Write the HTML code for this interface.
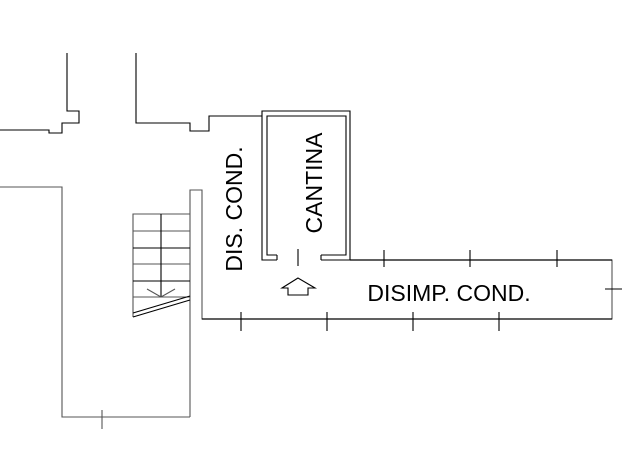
<!DOCTYPE html>
<html><head><style>
html,body{margin:0;padding:0;background:#fff;width:622px;height:464px;overflow:hidden}
svg{display:block}
text{font-family:"Liberation Sans",Arial,sans-serif;fill:#000}
</style></head><body>
<svg width="622" height="464" viewBox="0 0 622 464" xmlns="http://www.w3.org/2000/svg">
<g fill="none" stroke="#000" stroke-width="1.1">
<polyline points="0,130 49,130 49,133 62,133 62,123 79,123 79,111 67,111 67,53"/>
<polyline points="136,53 136,123 190,123 190,131 209,131 209,116 262,116"/>
<polyline points="0,187 62,187 62,417 190,417" stroke="#555"/>
<line x1="102" y1="410" x2="102" y2="429" stroke="#555"/>
<polyline points="190,417 190,190 202,190 202,319 612,319 612,260 350,260" stroke="#555"/>
<line x1="202" y1="319" x2="612" y2="319" stroke-width="1.3"/>
<polyline points="277,260 262,260 262,111 350,111 350,260"/>
<polyline points="277,255 267,255 267,116 346,116 346,255 321,255"/>
<line x1="321" y1="255" x2="321" y2="260"/>
<line x1="277" y1="255" x2="277" y2="260"/>
<line x1="321" y1="260" x2="350" y2="260"/>
<line x1="350" y1="260" x2="612" y2="260" stroke-width="1.3"/>
<line x1="298" y1="249" x2="298" y2="266"/>
<polygon points="298,278 282,288 288,288 288,295 308,295 308,288 315,288"/>
<line x1="384" y1="250" x2="384" y2="267"/>
<line x1="470" y1="250" x2="470" y2="267"/>
<line x1="557" y1="250" x2="557" y2="267"/>
<line x1="241" y1="312" x2="241" y2="331"/>
<line x1="327" y1="312" x2="327" y2="331"/>
<line x1="413" y1="312" x2="413" y2="331"/>
<line x1="499" y1="312" x2="499" y2="331"/>
<line x1="605" y1="289" x2="622" y2="289"/>
<polyline points="133,317 133,214 190,214" stroke="#555"/>
<line x1="133" y1="231" x2="190" y2="231" stroke="#555"/>
<line x1="133" y1="248" x2="190" y2="248"/>
<line x1="133" y1="264" x2="190" y2="264" stroke="#555"/>
<line x1="133" y1="281" x2="190" y2="281"/>
<line x1="133" y1="297" x2="190" y2="297" stroke="#555"/>
<line x1="161" y1="214" x2="161" y2="297"/>
<polyline points="147,289 161,297 175,289" stroke="#555"/>
<line x1="133" y1="313" x2="190" y2="296"/>
<line x1="133" y1="317" x2="190" y2="300"/>
</g>
<text x="0" y="0" font-size="23" text-anchor="middle" transform="translate(242,209) rotate(-90)">DIS. COND.</text>
<text x="0" y="0" font-size="23" text-anchor="middle" transform="translate(322,183) rotate(-90)">CANTINA</text>
<text x="449" y="301" font-size="23" text-anchor="middle">DISIMP. COND.</text>
</svg>
</body></html>
